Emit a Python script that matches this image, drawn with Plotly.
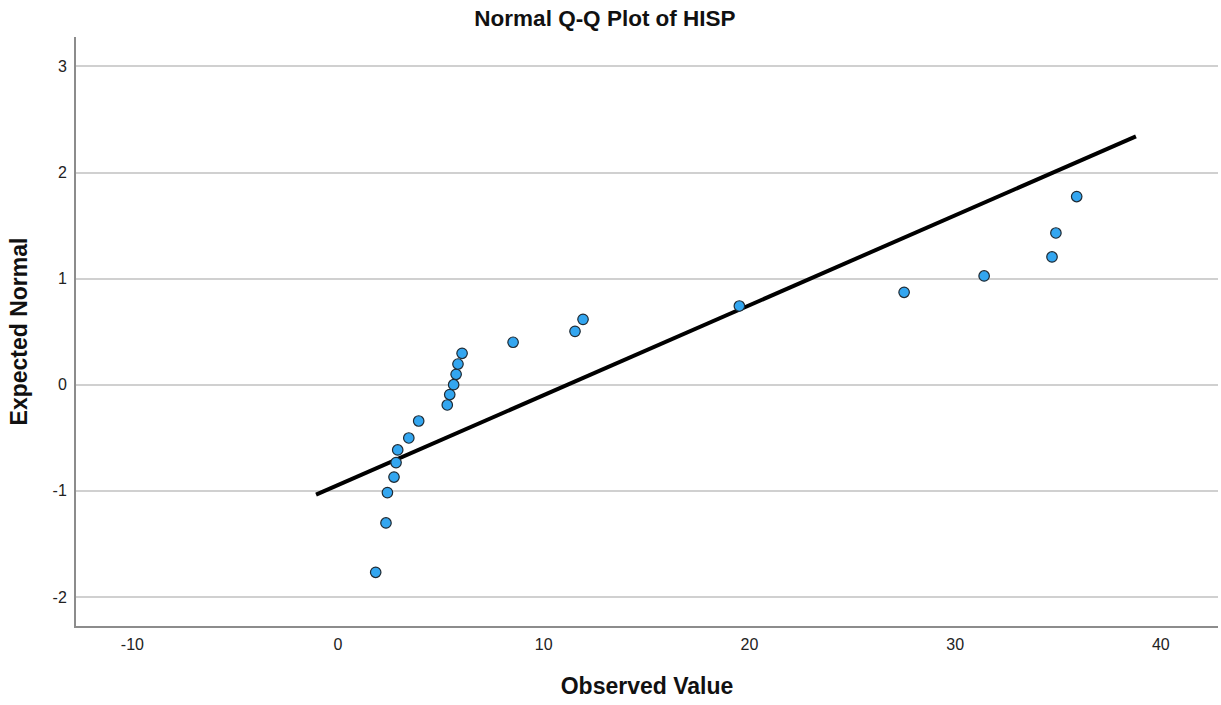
import plotly.graph_objects as go

observed = [1.83, 2.33, 2.40, 2.72, 2.82, 2.90, 3.44, 3.92, 5.31, 5.43, 5.62, 5.74,
            5.83, 6.03, 8.51, 11.52, 11.91, 19.51, 27.52, 31.41, 34.71, 34.90, 35.91]
expected = [-1.768, -1.303, -1.017, -0.870, -0.734, -0.615, -0.502, -0.342, -0.191,
            -0.093, 0.0, 0.098, 0.195, 0.296, 0.400, 0.503, 0.616, 0.742, 0.871,
            1.025, 1.204, 1.430, 1.773]

# Reference line endpoints
line_x = [-1.07, 38.79]
line_y = [-1.036, 2.341]

x_ticks = [-10, 0, 10, 20, 30, 40]
x_tick_text = ["-10", "0", "10", "20", "30", "40"]
y_ticks = [-2, -1, 0, 1, 2, 3]
y_tick_text = ["-2", "-1", "0", "1", "2", "3"]

fig = go.Figure()
fig.add_trace(go.Scatter(
    x=line_x, y=line_y, mode="lines",
    line=dict(color="black", width=4), showlegend=False, hoverinfo="skip"))
fig.add_trace(go.Scatter(
    x=observed, y=expected, mode="markers",
    marker=dict(size=10.5, color="#33a6f0", line=dict(color="#1f2a33", width=1.2)),
    showlegend=False))

fig.update_layout(
    width=1221, height=705,
    margin=dict(l=76, r=3, t=37, b=79),
    plot_bgcolor="white", paper_bgcolor="white",
    font=dict(family="Liberation Sans, Arial, sans-serif", color="#222"),
    title=dict(text="<b>Normal Q-Q Plot of HISP</b>", x=605 / 1221, xref="container", xanchor="center",
               y=1 - 18 / 705, yref="container", yanchor="middle",
               font=dict(size=22.5, color="#111")),
    xaxis=dict(range=[-12.74, 42.78], tickvals=x_ticks, ticktext=x_tick_text,
               showgrid=False, zeroline=False,
               showline=True, linecolor="#8c8c8c", linewidth=2, ticks="", ticklen=0,
               ticklabelstandoff=3,
               tickfont=dict(size=16, color="#222"),
               title=dict(text="<b>Observed Value</b>", font=dict(size=23, color="#111"), standoff=26)),
    yaxis=dict(range=[-2.274, 3.277], tickvals=y_ticks, ticktext=y_tick_text,
               showgrid=True, gridcolor="#d0d0d0",
               gridwidth=1.5, zeroline=False, showline=True, linecolor="#8c8c8c", linewidth=2,
               ticks="", ticklabelstandoff=4, tickfont=dict(size=16, color="#222"),
               title=dict(text="<b>Expected Normal</b>", font=dict(size=23, color="#111"), standoff=19)),
)

fig.write_html("out.html")
